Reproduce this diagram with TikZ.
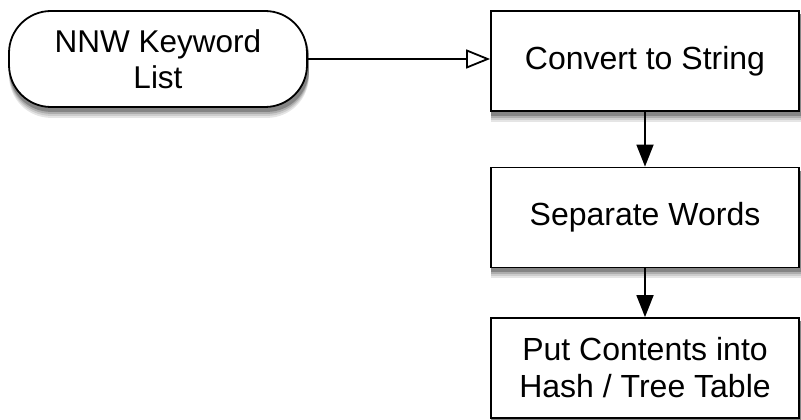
\documentclass[tikz,border=0pt]{standalone}
\usepackage{fontspec}
\setmainfont{Liberation Sans}
\usetikzlibrary{positioning, arrows.meta, backgrounds}

\begin{document}
\begin{tikzpicture}[x=1pt,y=1pt,line width=1.8pt,
    every node/.style={font=\fontsize{32}{37}\selectfont},
    startbox/.style={draw, fill=white, rounded corners=42pt, align=center,
        minimum width=298pt, minimum height=96pt, inner sep=0pt,
        font=\fontsize{31.5}{36}\selectfont},
    stepbox/.style={draw, fill=white, align=center,
        minimum width=308pt, minimum height=100pt, inner sep=0pt},
    flow/.style={-{Triangle[length=22pt,width=17pt]}},
    openflow/.style={-{Triangle[open,length=24pt,width=19pt]}}]

    % Page size
    \useasboundingbox (0,0) rectangle (801,420);

    % ======================
    % Start
    % ======================
    \node[startbox] (keywords) at (158,361) {NNW Keyword\\List};

    % ======================
    % Steps
    % ======================
    \node[stepbox] (convert) at (645,359) {Convert to String};
    \node[stepbox] (separate) at (645,202.5) {Separate Words};
    \node[stepbox] (hashtable) at (645,52) {Put Contents into\\Hash / Tree Table};

    % ======================
    % Arrows
    % ======================
    \draw[openflow] (keywords.east) -- (keywords.east -| convert.west);
    \draw[flow] (convert) -- (separate);
    \draw[flow] (separate) -- (hashtable);

    % ======================
    % Shadows (soft, layered)
    % ======================
    \begin{scope}[on background layer]
        \foreach \dy/\tone in {10/10,8/20,6/32,4/48}{
            \fill[black!\tone,rounded corners=42pt]
                ([xshift=1pt,yshift=-\dy pt]keywords.south west)
                rectangle ([xshift=1pt,yshift=-\dy pt]keywords.north east);
            \foreach \nd in {convert,separate,hashtable}
                \fill[black!\tone]
                    ([xshift=1pt,yshift=-\dy pt]\nd.south west)
                    rectangle ([xshift=1pt,yshift=-\dy pt]\nd.north east);
        }
    \end{scope}

\end{tikzpicture}
\end{document}
